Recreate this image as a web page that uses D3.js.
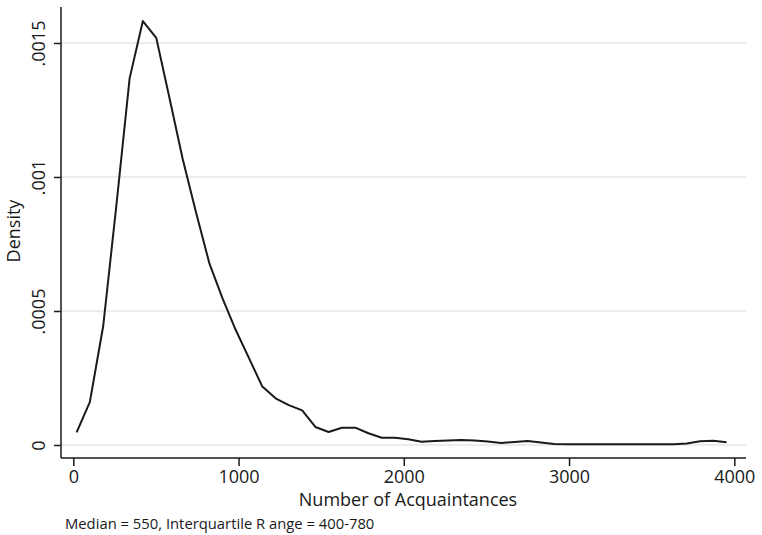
<!DOCTYPE html>
<html lang="en">
<head>
    <title>Density of Number of Acquaintances</title>
    <meta charset="utf-8"/>
    <script src="https://d3js.org/d3.v7.min.js"></script>
    <style>
        body { margin: 0; background: #fff; }
        text { font-family: "Open Sans", sans-serif; fill: #1a1a1a; }
    </style>
</head>
<body>
<div id="viz">
    <svg width="762" height="535"></svg>
</div>

<script type="text/javascript">

    // puntos de la densidad (kdensity, 50 puntos)
    const acquaintances = [20, 100, 181, 261, 341, 421, 502, 582, 662, 742,
        823, 903, 983, 1064, 1144, 1224, 1304, 1385, 1465, 1545,
        1625, 1706, 1786, 1866, 1947, 2027, 2107, 2187, 2268, 2348,
        2428, 2508, 2589, 2669, 2749, 2830, 2910, 2990, 3070, 3151,
        3231, 3311, 3391, 3472, 3552, 3632, 3712, 3793, 3873, 3953];
    const density = [0.0000474, 0.000160, 0.000444, 0.000896, 0.001369, 0.001582, 0.001519, 0.001295, 0.001067, 0.000869,
        0.000679, 0.000547, 0.000429, 0.000323, 0.000218, 0.000174, 0.000149, 0.000129, 0.0000672, 0.0000485,
        0.0000646, 0.0000646, 0.0000437, 0.0000272, 0.0000272, 0.0000213, 0.0000123, 0.0000149, 0.0000168, 0.0000187,
        0.0000168, 0.0000131, 0.0000075, 0.0000112, 0.0000149, 0.0000093, 0.0000037, 0.0000026, 0.0000026, 0.0000026,
        0.0000026, 0.0000026, 0.0000026, 0.0000026, 0.0000026, 0.0000026, 0.0000056, 0.0000138, 0.0000160, 0.0000101];

    // ticks
    const xTicks = [0, 1000, 2000, 3000, 4000];
    const yTicks = [0, 0.0005, 0.001, 0.0015];
    const yTickLabels = ["0", ".0005", ".001", ".0015"];

    const data = acquaintances.map((x, i) => ({x: x, y: density[i]}));

    // caja del grafico
    const plotLeft = 61, plotRight = 746, plotTop = 7, plotBottom = 458;

    const xScale = d3.scaleLinear().domain([0, 4000]).range([73.3, 734.3]);
    const yScale = d3.scaleLinear().domain([0, 0.0015]).range([445, 43]);

    const svg = d3.select("svg");
    const ink = "#1a1a1a";

    // lineas de grilla
    svg.append("g")
        .selectAll("line")
        .data(yTicks).enter()
        .append("line")
        .attr("x1", plotLeft)
        .attr("x2", plotRight)
        .attr("y1", d => yScale(d))
        .attr("y2", d => yScale(d))
        .attr("stroke", "#e6e6e6")
        .attr("stroke-width", 1.5);

    // eje x
    let xAxis = d3.axisBottom(xScale)
        .tickValues(xTicks)
        .tickFormat(d3.format("d"))
        .tickSize(8)
        .tickPadding(4.5)
        .tickSizeOuter(0);

    let gx = svg.append("g")
        .attr("transform", "translate(0," + plotBottom + ")")
        .style("font-size", "18px")
        .style("font-family", "Open Sans")
        .call(xAxis);
    gx.select(".domain").remove();
    gx.selectAll(".tick line").attr("stroke", ink).attr("stroke-width", 1.5);
    gx.selectAll(".tick text").attr("fill", ink);

    svg.append("line")
        .attr("x1", plotLeft).attr("x2", plotRight)
        .attr("y1", plotBottom).attr("y2", plotBottom)
        .attr("stroke", ink).attr("stroke-width", 1.5);

    // eje y
    let yAxis = d3.axisLeft(yScale)
        .tickValues(yTicks)
        .tickSize(7)
        .tickSizeOuter(0)
        .tickFormat((d, i) => yTickLabels[i]);

    let gy = svg.append("g")
        .attr("transform", "translate(" + plotLeft + ",0)")
        .style("font-size", "18px")
        .style("font-family", "Open Sans")
        .call(yAxis);
    gy.select(".domain").remove();
    gy.selectAll(".tick line").attr("stroke", ink).attr("stroke-width", 1.5);
    gy.selectAll(".tick text")
        .attr("fill", ink)
        .attr("x", null).attr("dy", null)
        .attr("text-anchor", "middle")
        .attr("transform", "translate(-16,0) rotate(-90)");

    svg.append("line")
        .attr("x1", plotLeft).attr("x2", plotLeft)
        .attr("y1", plotTop).attr("y2", plotBottom)
        .attr("stroke", ink).attr("stroke-width", 1.5);

    // la curva
    let densityLine = d3.line()
        .x(d => xScale(d.x))
        .y(d => yScale(d.y))
        .curve(d3.curveLinear);

    svg.append("path")
        .attr("d", densityLine(data))
        .attr("fill", "none")
        .attr("stroke", ink)
        .attr("stroke-width", 2)
        .attr("stroke-linejoin", "round");

    // titulos
    svg.append("text")
        .attr("x", 408).attr("y", 506)
        .attr("text-anchor", "middle")
        .style("font-size", "18px")
        .text("Number of Acquaintances");

    svg.append("text")
        .attr("transform", "translate(19.5,231) rotate(-90)")
        .attr("text-anchor", "middle")
        .style("font-size", "18px")
        .text("Density");

    svg.append("text")
        .attr("x", 65).attr("y", 529)
        .style("font-size", "14.8px")
        .text("Median = 550, Interquartile R ange = 400-780");

</script>
</body>
</html>
